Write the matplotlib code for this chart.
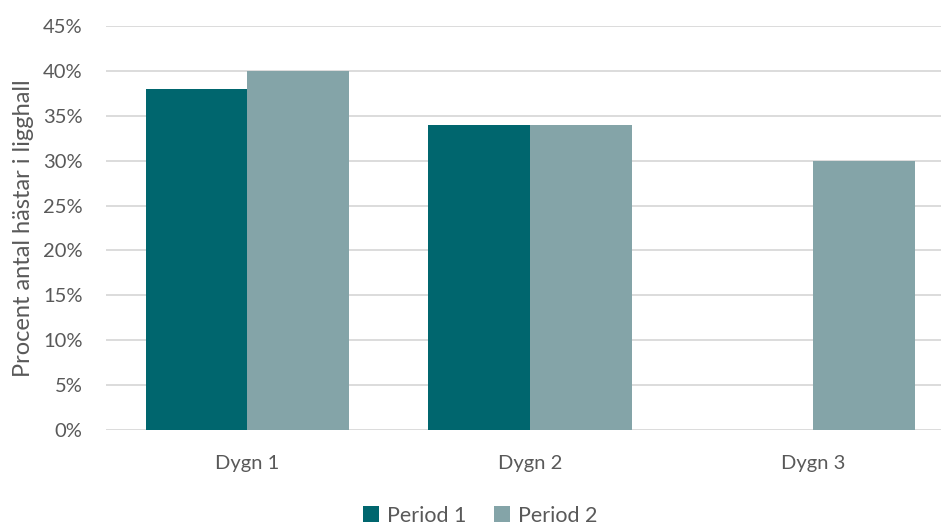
import matplotlib.pyplot as plt
import numpy as np
from matplotlib.ticker import PercentFormatter

plt.rcParams['font.family'] = ['Lato', 'DejaVu Sans']

categories = ["Dygn 1", "Dygn 2", "Dygn 3"]
period1 = [0.38, 0.34, np.nan]
period2 = [0.40, 0.34, 0.30]

dark = "#00666E"
light = "#84A4A8"
text_col = "#595959"

fig = plt.figure(figsize=(9.41, 5.25), dpi=100)
ax = fig.add_axes([0.1127, 0.181, 0.8873, 0.7695])

x = np.arange(len(categories))
w = 0.36
ax.bar(x - w / 2, period1, w, color=dark, label="Period 1", zorder=3)
ax.bar(x + w / 2, period2, w, color=light, label="Period 2", zorder=3)

ax.set_ylim(0, 0.45)
ax.set_xlim(-0.5, 2.452)
ax.set_yticks(np.arange(0, 0.451, 0.05))
ax.yaxis.set_major_formatter(PercentFormatter(1.0, decimals=0))
ax.set_xticks(x)
ax.set_xticklabels(categories)
ax.grid(axis="y", color="#D9D9D9", linewidth=1.3, zorder=0)
for s in ax.spines.values():
    s.set_visible(False)
ax.tick_params(length=0, labelsize=14.5, colors=text_col)
ax.tick_params(axis="y", pad=17)
ax.tick_params(axis="x", pad=18)
ax.set_ylabel("Procent antal hästar i ligghall", fontsize=17, color=text_col, labelpad=6)

fig.legend(loc="lower center", bbox_to_anchor=(0.51, -0.038), ncol=2, frameon=False,
           fontsize=15.5, labelcolor=text_col, handlelength=0.75, handleheight=0.75,
           handletextpad=0.35, columnspacing=1.3)

fig.savefig("out.png", dpi=100)
